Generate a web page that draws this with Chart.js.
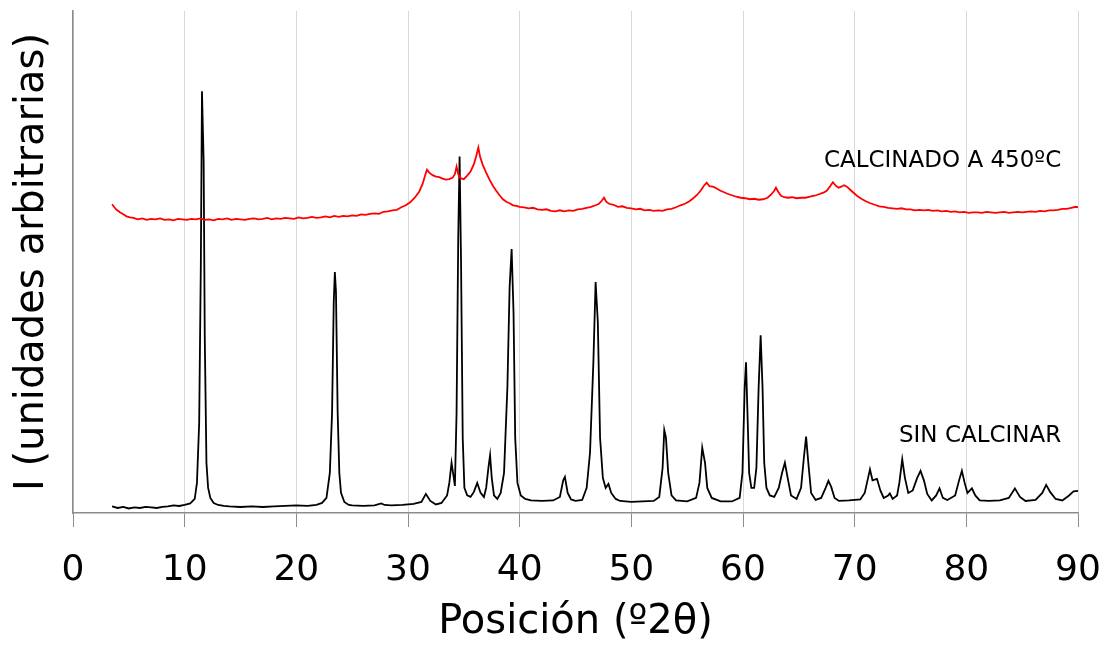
<!DOCTYPE html>
<html>
<head>
<meta charset="utf-8">
<script src="https://cdn.jsdelivr.net/npm/chart.js@4.4.1/dist/chart.umd.min.js"></script>
<style>
  body { margin: 0; background: #fff; }
  #wrap { width: 1110px; height: 653px; }
</style>
</head>
<body>
<div id="wrap"><canvas id="grafico" width="1110" height="653"></canvas></div>
<script>
const sinX = [3.5, 4, 4.5, 5, 5.5, 6, 6.5, 7, 7.5, 8, 8.5, 9, 9.5, 10, 10.5, 10.9, 11.1, 11.3, 11.45, 11.55, 11.7, 11.8, 11.95, 12.1, 12.3, 12.6, 13, 13.5, 14, 15, 16, 17, 18, 19, 20, 21, 21.8, 22.3, 22.7, 23.0, 23.2, 23.35, 23.45, 23.55, 23.7, 23.85, 24.0, 24.3, 24.7, 25, 26, 27, 27.6, 27.9, 28.5, 29.5, 30.5, 31.2, 31.6, 32.0, 32.5, 33, 33.5, 33.7, 33.9, 34.1, 34.2, 34.35, 34.5, 34.62, 34.75, 34.9, 35.05, 35.3, 35.6, 35.9, 36.2, 36.5, 36.8, 37.0, 37.2, 37.35, 37.5, 37.7, 38.0, 38.3, 38.6, 38.9, 39.1, 39.28, 39.45, 39.6, 39.8, 40.1, 40.5, 41, 42, 43, 43.6, 43.9, 44.05, 44.3, 44.6, 45, 45.6, 46.0, 46.3, 46.6, 46.8, 47.0, 47.2, 47.45, 47.7, 47.95, 48.2, 48.6, 49, 50, 51, 52, 52.5, 52.8, 52.95, 53.1, 53.3, 53.6, 54, 55, 55.8, 56.1, 56.35, 56.6, 56.8, 57.2, 58, 59, 59.7, 59.95, 60.15, 60.27, 60.4, 60.55, 60.75, 61.0, 61.2, 61.4, 61.58, 61.75, 61.9, 62.1, 62.4, 62.8, 63.2, 63.5, 63.75, 64.0, 64.3, 64.8, 65.2, 65.45, 65.65, 65.85, 66.1, 66.5, 67.0, 67.4, 67.65, 67.9, 68.2, 68.6, 69.5, 70.5, 70.9, 71.2, 71.37, 71.6, 72.0, 72.3, 72.6, 73.0, 73.15, 73.4, 73.8, 74.0, 74.26, 74.5, 74.8, 75.2, 75.6, 75.9, 76.2, 76.5, 76.9, 77.3, 77.6, 77.9, 78.3, 79.0, 79.35, 79.6, 79.85, 80.1, 80.5, 80.8, 81.2, 82, 83, 83.8, 84.35, 84.8, 85.3, 86.2, 86.8, 87.15, 87.5, 88, 88.6, 89.2, 89.6, 90];
const sinY = [1.3, 1.0, 1.2, 0.9, 1.1, 1.0, 1.2, 1.1, 1.0, 1.2, 1.3, 1.5, 1.4, 1.6, 1.9, 2.8, 6, 18, 50, 84, 70, 35, 10, 5, 3, 2.0, 1.6, 1.4, 1.3, 1.2, 1.3, 1.2, 1.3, 1.4, 1.5, 1.4, 1.6, 2.0, 3, 8, 20, 42, 48, 44, 20, 8, 4, 2.2, 1.6, 1.5, 1.4, 1.5, 1.9, 1.6, 1.5, 1.6, 1.8, 2.2, 3.8, 2.4, 1.7, 2.0, 3.5, 6, 10, 7, 5.4, 20, 55, 71, 50, 15, 5, 3.5, 3.2, 4.2, 6, 4, 3.2, 5, 9, 11.5, 7, 3.5, 2.8, 4, 8, 25, 45, 52.6, 40, 15, 6, 3.5, 2.8, 2.5, 2.4, 2.5, 3.2, 6.5, 7.2, 4, 2.7, 2.4, 2.6, 5, 12, 30, 46, 38, 15, 7, 5, 5.8, 4, 2.8, 2.4, 2.2, 2.3, 2.4, 3.2, 9, 16.5, 15, 8, 3.5, 2.5, 2.3, 3, 6, 13, 10, 5, 3, 2.3, 2.3, 3, 8, 25, 30, 20, 8, 5, 5, 9, 25, 35.4, 25, 10, 5, 3.5, 3.2, 5, 8, 10, 7, 3.5, 2.8, 5, 11, 15.2, 10, 4, 2.6, 3, 5, 6.4, 5.2, 3, 2.4, 2.5, 2.7, 4, 7, 8.7, 6.5, 6.8, 4.5, 3, 3.5, 3.9, 2.8, 3.5, 6, 10.7, 7, 4, 4.5, 7, 8.4, 6.5, 3.8, 2.5, 3.5, 4.9, 3, 2.6, 3.5, 6.5, 8.4, 6, 4, 4.9, 3.5, 2.5, 2.4, 2.5, 3, 4.9, 3.2, 2.4, 2.6, 4, 5.6, 4.2, 2.8, 2.5, 3.5, 4.3, 4.4];

const calX = [3.5, 3.7, 3.9, 4.2, 4.5, 4.8, 5.1, 5.4, 5.8, 6.2, 6.6, 7.0, 7.4, 7.8, 8.2, 8.6, 9.0, 9.4, 9.8, 10.2, 10.6, 11.0, 11.4, 11.8, 12.2, 12.6, 13.0, 13.4, 13.8, 14.2, 14.6, 15.0, 15.4, 15.8, 16.2, 16.6, 17.0, 17.4, 17.8, 18.2, 18.6, 19.0, 19.4, 19.8, 20.2, 20.6, 21.0, 21.4, 21.8, 22.2, 22.6, 23.0, 23.4, 23.8, 24.2, 24.6, 25.0, 25.4, 25.8, 26.2, 26.6, 27.0, 27.4, 27.8, 28.2, 28.6, 29.0, 29.4, 29.8, 30.2, 30.6, 31.0, 31.3, 31.55, 31.7, 31.9, 32.2, 32.5, 32.8, 33.1, 33.4, 33.7, 34.0, 34.2, 34.35, 34.5, 34.7, 35.0, 35.3, 35.6, 35.9, 36.1, 36.3, 36.45, 36.7, 37.0, 37.3, 37.6, 37.9, 38.2, 38.5, 38.8, 39.1, 39.4, 39.7, 40.0, 40.4, 40.8, 41.2, 41.6, 42.0, 42.4, 42.8, 43.2, 43.6, 44.0, 44.4, 44.8, 45.2, 45.6, 46.0, 46.4, 46.8, 47.1, 47.35, 47.55, 47.75, 48.0, 48.4, 48.8, 49.2, 49.6, 50.0, 50.4, 50.8, 51.2, 51.6, 52.0, 52.4, 52.8, 53.2, 53.6, 54.0, 54.4, 54.8, 55.2, 55.6, 55.9, 56.2, 56.5, 56.75, 57.0, 57.3, 57.6, 57.9, 58.2, 58.6, 59.0, 59.4, 59.8, 60.2, 60.6, 61.0, 61.4, 61.8, 62.2, 62.5, 62.8, 62.95, 63.15, 63.4, 63.7, 64.0, 64.4, 64.8, 65.2, 65.6, 66.0, 66.4, 66.8, 67.2, 67.5, 67.8, 68.05, 68.3, 68.55, 68.8, 69.05, 69.3, 69.6, 69.9, 70.2, 70.6, 71.0, 71.4, 71.8, 72.2, 72.6, 73.0, 73.4, 73.8, 74.2, 74.6, 75.0, 75.4, 75.8, 76.2, 76.6, 77.0, 77.4, 77.8, 78.2, 78.6, 79.0, 79.4, 79.8, 80.2, 80.6, 81.0, 81.4, 81.8, 82.2, 82.6, 83.0, 83.4, 83.8, 84.2, 84.6, 85.0, 85.4, 85.8, 86.2, 86.6, 87.0, 87.4, 87.8, 88.2, 88.6, 89.0, 89.4, 89.8, 90.0];
const calY = [61.5, 60.9, 60.4, 59.9, 59.5, 59.1, 58.9, 58.8, 58.5, 58.7, 58.4, 58.6, 58.5, 58.7, 58.4, 58.5, 58.3, 58.6, 58.5, 58.4, 58.6, 58.5, 58.7, 58.4, 58.5, 58.3, 58.6, 58.5, 58.7, 58.4, 58.6, 58.5, 58.4, 58.6, 58.7, 58.5, 58.6, 58.8, 58.5, 58.7, 58.6, 58.8, 58.7, 58.6, 58.9, 58.7, 58.8, 59.0, 58.8, 58.9, 59.1, 58.9, 59.2, 59.0, 59.2, 59.1, 59.3, 59.2, 59.5, 59.4, 59.6, 59.7, 59.6, 60.0, 60.1, 60.3, 60.4, 60.9, 61.3, 61.9, 62.8, 64.0, 65.5, 67.4, 68.4, 67.8, 67.3, 67.0, 66.9, 66.6, 66.4, 66.5, 66.8, 67.5, 69.0, 67.5, 66.7, 66.5, 67.2, 68.0, 69.5, 71.0, 72.8, 71.0, 69.3, 67.8, 66.4, 65.2, 64.2, 63.3, 62.5, 62.0, 61.7, 61.3, 61.2, 61.0, 60.9, 60.7, 60.8, 60.5, 60.4, 60.5, 60.2, 60.1, 60.3, 60.1, 60.3, 60.2, 60.5, 60.6, 60.8, 61.0, 61.3, 61.6, 62.2, 62.8, 62.0, 61.6, 61.4, 61.0, 61.1, 60.8, 60.7, 60.5, 60.6, 60.3, 60.4, 60.2, 60.3, 60.2, 60.5, 60.6, 60.9, 61.3, 61.6, 62.1, 62.8, 63.4, 64.2, 65.2, 65.8, 65.1, 65.0, 64.7, 64.3, 64.0, 63.6, 63.3, 63.0, 62.8, 62.7, 62.5, 62.6, 62.4, 62.5, 62.8, 63.4, 64.2, 64.8, 64.0, 63.2, 62.9, 62.8, 62.9, 62.7, 62.8, 62.8, 63.0, 63.2, 63.5, 63.8, 64.2, 65.1, 65.9, 65.2, 64.8, 65.0, 65.3, 65.0, 64.4, 63.8, 63.2, 62.6, 62.1, 61.7, 61.4, 61.1, 61.0, 60.8, 60.7, 60.6, 60.7, 60.5, 60.5, 60.3, 60.4, 60.3, 60.4, 60.2, 60.3, 60.1, 60.2, 60.0, 60.1, 59.9, 60.0, 59.8, 59.9, 59.9, 59.8, 60.0, 59.9, 59.8, 59.9, 60.0, 59.8, 59.9, 60.0, 59.9, 60.0, 60.1, 60.0, 60.2, 60.1, 60.3, 60.3, 60.4, 60.6, 60.6, 60.8, 61.0, 60.9];

const etiquetas = ['CALCINADO A 450ºC', 'SIN CALCINAR'];

const fuente = 'DejaVu Sans';

function puntos(xs, ys) {
  return xs.map((x, i) => ({ x: x, y: ys[i] }));
}

// rotulos dentro del area del grafico
const rotulos = {
  id: 'rotulos',
  afterDatasetsDraw(chart) {
    const ctx = chart.ctx;
    const sx = chart.scales.x, sy = chart.scales.y;
    ctx.save();
    ctx.font = '23px "' + fuente + '"';
    ctx.fillStyle = '#000';
    ctx.textAlign = 'right';
    ctx.textBaseline = 'middle';
    ctx.fillText(etiquetas[0], sx.getPixelForValue(88.5), sy.getPixelForValue(70.2));
    ctx.fillText(etiquetas[1], sx.getPixelForValue(88.5), sy.getPixelForValue(15.3));
    ctx.restore();
  }
};

const ctx = document.getElementById('grafico').getContext('2d');
new Chart(ctx, {
  type: 'line',
  data: {
    datasets: [
      {
        label: etiquetas[0],
        data: puntos(calX, calY),
        borderColor: '#ff0000',
        borderWidth: 1.8,
        pointRadius: 0,
        tension: 0
      },
      {
        label: etiquetas[1],
        data: puntos(sinX, sinY),
        borderColor: '#000000',
        borderWidth: 1.8,
        pointRadius: 0,
        tension: 0
      }
    ]
  },
  options: {
    responsive: false,
    animation: false,
    layout: { padding: { top: 11, right: 32, left: 0, bottom: 0 } },
    plugins: {
      legend: { display: false },
      tooltip: { enabled: false }
    },
    scales: {
      x: {
        type: 'linear',
        min: 0,
        max: 90,
        ticks: {
          stepSize: 10,
          color: '#000',
          padding: 22,
          font: { family: fuente, size: 36 }
        },
        grid: {
          color: '#d9d9d9',
          tickColor: '#8c8c8c',
          tickLength: 14,
          lineWidth: 1
        },
        border: { color: '#8c8c8c', width: 1.5 },
        title: {
          display: true,
          text: 'Posición (º2θ)',
          color: '#000',
          font: { family: fuente, size: 40 },
          padding: { top: 0, bottom: 6 }
        },
        afterFit(scale) {
          scale.height = 140;
          scale.paddingLeft = 0;
          scale.paddingRight = 0;
        }
      },
      y: {
        min: 0,
        max: 100,
        ticks: { display: false },
        grid: { display: false },
        border: { color: '#8c8c8c', width: 1.5 },
        title: {
          display: true,
          text: 'I (unidades arbitrarias)',
          color: '#000',
          font: { family: fuente, size: 40 },
          padding: { top: 9, bottom: 0 }
        },
        afterFit(scale) { scale.width = 73; }
      }
    }
  },
  plugins: [rotulos]
});
</script>
</body>
</html>
